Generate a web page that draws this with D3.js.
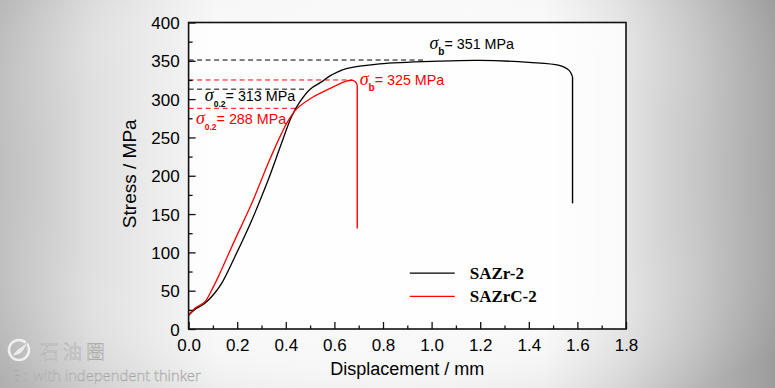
<!DOCTYPE html>
<html>
<head>
<meta charset="utf-8">
<script src="https://cdn.jsdelivr.net/npm/d3@7"></script>
<style>
  body { margin: 0; }
  svg { display: block; }
  .tick text { font-family: "Liberation Sans", Arial, sans-serif; }
</style>
</head>
<body>
<svg id="chart" width="775" height="388"></svg>
<script>
// Tensile curves: displacement (mm) / stress (MPa)
const zrDisp   = [0, 0.026, 0.067, 0.10, 0.136, 0.19, 0.26, 0.327, 0.382, 0.423, 0.457, 0.50, 0.547, 0.58, 0.61, 0.649, 0.786, 1.032, 1.197, 1.40, 1.525, 1.566, 1.58];
const zrStress = [18, 25.6, 33.5, 44, 59.5, 94, 142, 194, 242, 276.6, 296, 313, 322.5, 330, 335, 339.7, 346, 349.6, 350.5, 348, 344, 337.5, 329];
const zrBreak  = [1.58, 164];   // fracture: displacement, final stress

const zrcDisp   = [0, 0.026, 0.067, 0.095, 0.122, 0.19, 0.26, 0.327, 0.382, 0.41, 0.444, 0.512, 0.58, 0.649, 0.675, 0.688, 0.694];
const zrcStress = [18, 27, 35.6, 50.8, 68, 116, 164, 216, 255, 272, 287, 302.7, 313.6, 323.5, 324.5, 322, 318];
const zrcBreak  = [0.694, 131];

const seriesNames = ['SAZr-2', 'SAZrC-2'];
const seriesColors = ['#000000', '#ff0000'];

// reference levels: value, end of dashed line (mm), label anchor (mm, MPa)
const refValues = [351, 325, 313, 288];
const refEnds   = [0.978, 0.675, 0.49, 0.44];
const refSub    = ['b', 'b', '0.2', '0.2'];
const refColor  = ['#000000', '#ff0000', '#000000', '#ff0000'];
const refLabelX = [0.991, 0.704, 0.067, 0.030];
const refLabelY = [366, 318, 297, 267];

const xTicks = [0, 0.2, 0.4, 0.6, 0.8, 1.0, 1.2, 1.4, 1.6, 1.8];
const yTicks = [0, 50, 100, 150, 200, 250, 300, 350, 400];

const svg = d3.select('#chart');
const W = 775, H = 388;
const margin = {top: 22.5, right: 149, bottom: 59, left: 188.6};
const width = W - margin.left - margin.right,
      height = H - margin.top - margin.bottom;

// background vignette
const defs = svg.append('defs');
const lg = defs.append('linearGradient').attr('id', 'bgx');
[[0, '#bcbcbc'], [0.12, '#e0e0e0'], [0.28, '#f8f8f8'], [0.7, '#fafafa'], [0.8, '#e6e6e6'], [0.9, '#c6c6c6'], [1, '#9e9e9e']]
  .forEach(s => lg.append('stop').attr('offset', s[0]).attr('stop-color', s[1]));
const rg = defs.append('radialGradient').attr('id', 'bgr')
  .attr('cx', 0.47).attr('cy', 0.45).attr('r', 0.7);
[[0, '#ffffff', 0], [0.6, '#ffffff', 0], [1, '#999999', 0.35]]
  .forEach(s => rg.append('stop').attr('offset', s[0]).attr('stop-color', s[1]).attr('stop-opacity', s[2]));
svg.append('rect').attr('width', W).attr('height', H).attr('fill', 'url(#bgx)');
svg.append('rect').attr('width', W).attr('height', H).attr('fill', 'url(#bgr)');

// watermark (embossed look)
const wm = svg.append('g').attr('fill', '#ececec').attr('stroke', '#a4a4a4').attr('stroke-width', 0.45);
wm.append('circle').attr('cx', 19).attr('cy', 350).attr('r', 10).attr('fill', 'none').attr('stroke', '#f0f0f0').attr('stroke-width', 2.5);
wm.append('path').attr('d', 'M12,356 C17,348 24,346 27,342 C25,351 20,356 12,356 Z');
wm.append('text').attr('x', 40).attr('y', 359)
  .style('font-family', '"Noto Sans CJK SC", sans-serif').style('font-size', '19px').style('font-weight', 300)
  .attr('letter-spacing', 4).text('石油圈');
wm.append('text').attr('x', 10).attr('y', 381)
  .style('font-family', '"Open Sans", sans-serif').style('font-size', '14.8px').style('font-weight', 300)
  .text('Go with independent thinker');

const g = svg.append('g').attr('transform', `translate(${margin.left},${margin.top})`);

const x = d3.scaleLinear().domain([0, 1.8]).range([0, width]);
const y = d3.scaleLinear().domain([0, 400]).range([height, 0]);

g.append('rect').attr('width', width).attr('height', height).attr('fill', '#ffffff').attr('opacity', 0.8);

// dashed reference lines
refValues.forEach((v, i) => {
  g.append('line')
    .attr('x1', x(0)).attr('x2', x(refEnds[i]))
    .attr('y1', y(v)).attr('y2', y(v))
    .attr('stroke', refColor[i]).attr('stroke-width', 1)
    .attr('stroke-dasharray', '5,3.5');
});

// curves
const line = d3.line()
  .x(d => x(d[0])).y(d => y(d[1]))
  .curve(d3.curveCatmullRom.alpha(0.5));

[[zrDisp, zrStress, zrBreak], [zrcDisp, zrcStress, zrcBreak]].forEach((s, i) => {
  const pts = s[0].map((d, j) => [d, s[1][j]]);
  g.append('path').datum(pts)
    .attr('d', line).attr('fill', 'none')
    .attr('stroke', seriesColors[i]).attr('stroke-width', 1.3);
  const last = pts[pts.length - 1];
  g.append('line')
    .attr('x1', x(last[0])).attr('y1', y(last[1]))
    .attr('x2', x(s[2][0])).attr('y2', y(s[2][1]))
    .attr('stroke', seriesColors[i]).attr('stroke-width', 1.4);
});

// reference labels
refValues.forEach((v, i) => {
  const t = g.append('text')
    .attr('x', x(refLabelX[i])).attr('y', y(refLabelY[i]))
    .attr('fill', refColor[i]);
  t.append('tspan').text('σ')
    .style('font-family', '"Liberation Serif", serif').style('font-style', 'italic')
    .style('font-size', '18px');
  t.append('tspan').text(refSub[i]).attr('dy', 6)
    .style('font-family', '"Liberation Sans", Arial, sans-serif').style('font-weight', 'bold')
    .style('font-size', refSub[i] === 'b' ? '10px' : '8.5px');
  t.append('tspan').text('= ' + v + ' MPa').attr('dy', -6)
    .style('font-family', '"Liberation Sans", Arial, sans-serif').style('font-size', '14.3px');
});

// axes
const axisX = g.append('g').attr('transform', `translate(0,${height})`)
  .call(d3.axisBottom(x).tickValues(xTicks).tickFormat(d3.format('.1f')).tickSize(-7).tickPadding(10));
g.append('g').attr('transform', `translate(0,${height})`)
  .call(d3.axisBottom(x).tickValues(d3.range(0.1, 1.8, 0.2)).tickFormat('').tickSize(-3.5));
const axisY = g.append('g')
  .call(d3.axisLeft(y).tickValues(yTicks).tickSize(-7).tickPadding(9));
g.append('g')
  .call(d3.axisLeft(y).tickValues(d3.range(25, 400, 50)).tickFormat('').tickSize(-4));

g.selectAll('.domain').remove();
g.selectAll('.tick line').attr('stroke', '#111').attr('stroke-width', 1.3);
axisX.selectAll('text').style('font-size', '17px').attr('fill', '#000');
axisY.selectAll('text').style('font-size', '17px').attr('fill', '#000').attr('dy', '0.36em');

// frame
g.append('rect').attr('width', width).attr('height', height)
  .attr('fill', 'none').attr('stroke', '#111').attr('stroke-width', 1.6);

// axis titles
svg.append('text')
  .attr('x', margin.left + x(0.9)).attr('y', 375)
  .attr('text-anchor', 'middle')
  .style('font-family', '"Liberation Sans", Arial, sans-serif').style('font-size', '18px')
  .text('Displacement / mm');
svg.append('text')
  .attr('transform', `translate(136,${margin.top + y(200) - 2}) rotate(-90)`)
  .attr('text-anchor', 'middle')
  .style('font-family', '"Liberation Sans", Arial, sans-serif').style('font-size', '19px')
  .text('Stress / MPa');

// legend
const legend = g.append('g').attr('transform', `translate(${x(0.91)},${y(73)})`);
seriesNames.forEach((name, i) => {
  const row = legend.append('g').attr('transform', `translate(0,${i * 23.4})`);
  row.append('line').attr('x1', 0).attr('x2', 45).attr('y1', 0).attr('y2', 0)
    .attr('stroke', seriesColors[i]).attr('stroke-width', 1.3);
  row.append('text').attr('x', 60).attr('y', 6)
    .style('font-family', '"Liberation Serif", "Times New Roman", serif')
    .style('font-weight', 'bold').style('font-size', '17px')
    .text(name);
});
</script>
</body>
</html>
